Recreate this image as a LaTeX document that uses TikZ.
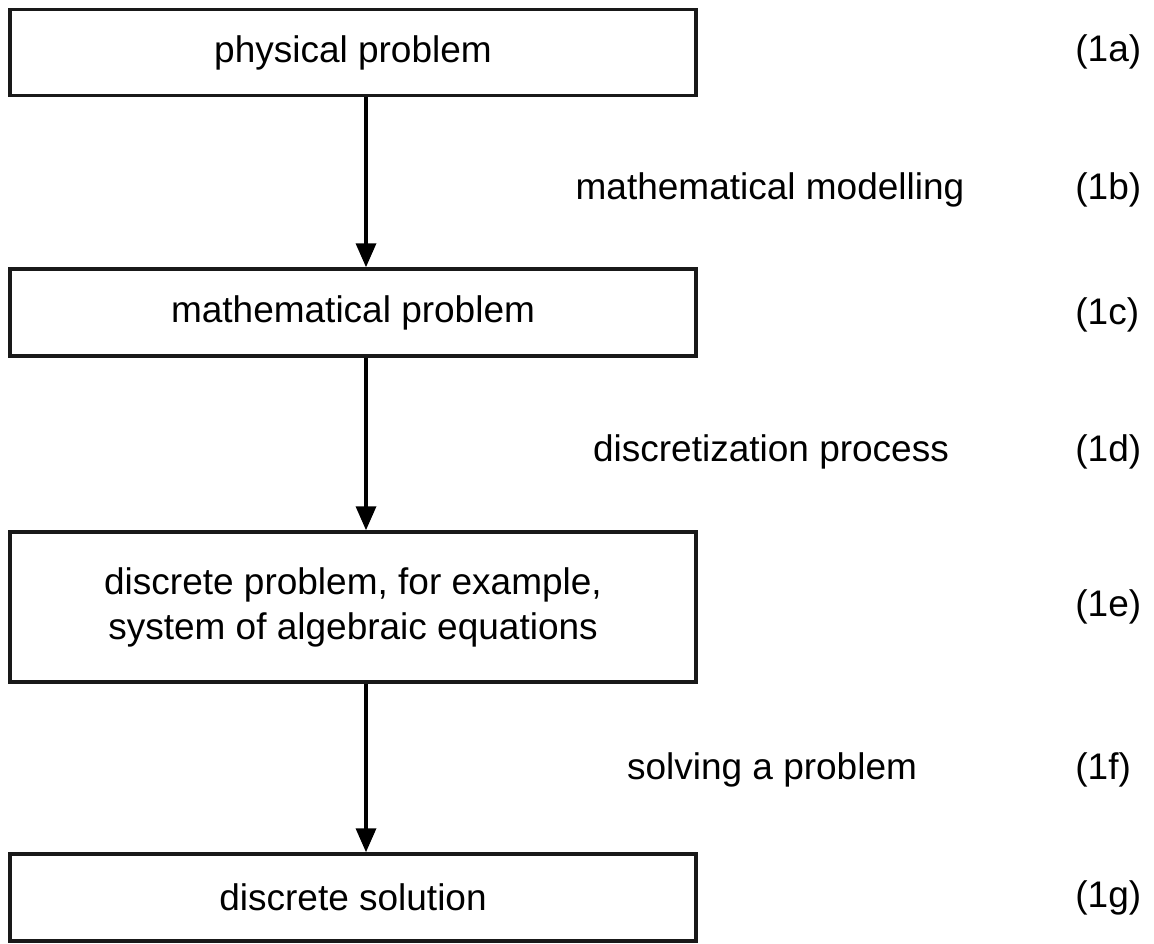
\documentclass[tikz,border=0pt]{standalone}
\usepackage{fontspec}
\setmainfont{Liberation Sans}
\usetikzlibrary{arrows.meta}
\begin{document}
\begin{tikzpicture}[x=0.5pt,y=-0.5pt,
  box/.style={draw=black!90,line width=1.75pt,rectangle,minimum width=343pt,inner sep=0pt,align=center,font=\fontsize{18.5}{22.5}\selectfont},
  lbl/.style={font=\fontsize{18.5}{22.5}\selectfont,inner sep=0pt},
  arr/.style={line width=1.75pt,-{Triangle[length=12pt,width=10pt]}}]
\useasboundingbox (0,0) rectangle (1154,943);
\node[box,minimum height=43pt] (b1) at (353,52.5) {physical problem};
\node[box,minimum height=43.5pt] (b2) at (353,312.5) {mathematical problem};
\node[box,minimum height=75pt] (b3) at (353,607) {discrete problem, for example,\\system of algebraic equations};
\node[box,minimum height=43.5pt] (b4) at (353,897.5) {discrete solution};
\node[lbl] (m1) at (770,190) {mathematical modelling};
\node[lbl] (m2) at (771,452) {discretization process};
\node[lbl] (m3) at (772,770) {solving a problem};
\node[lbl,anchor=west] (n1) at (1075,52) {(1a)};
\node[lbl,anchor=west] (n2) at (1075,190) {(1b)};
\node[lbl,anchor=west] (n3) at (1075,315) {(1c)};
\node[lbl,anchor=west] (n4) at (1075,452) {(1d)};
\node[lbl,anchor=west] (n5) at (1075,607) {(1e)};
\node[lbl,anchor=west] (n6) at (1075,770) {(1f)};
\node[lbl,anchor=west] (n7) at (1075,898) {(1g)};
\draw[arr] ([xshift=6.5pt]b1.south) -- ([xshift=6.5pt]b2.north);
\draw[arr] ([xshift=6.5pt]b2.south) -- ([xshift=6.5pt]b3.north);
\draw[arr] ([xshift=6.5pt]b3.south) -- ([xshift=6.5pt]b4.north);
\end{tikzpicture}
\end{document}
